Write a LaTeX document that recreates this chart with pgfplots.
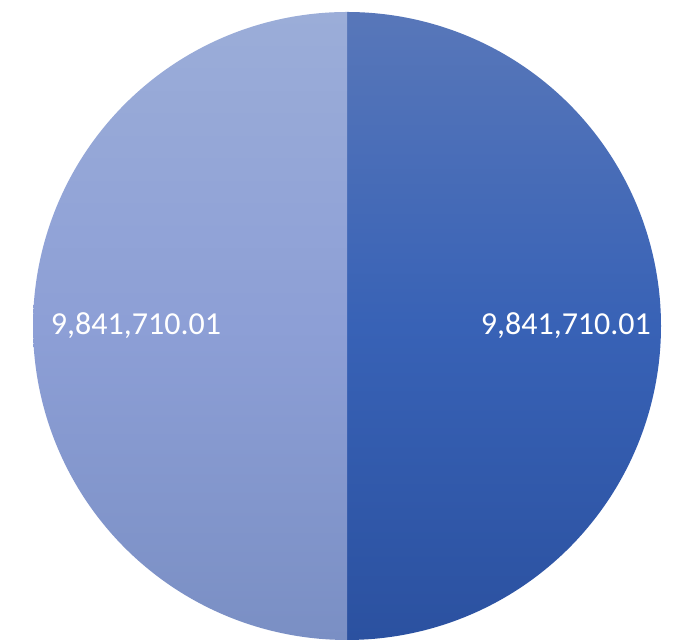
\documentclass[border=0pt]{standalone}
\usepackage{pgfplots}
\usepackage{pgfplotstable}
\usepackage{fontspec}
\setmainfont{Carlito}
\pgfplotsset{compat=1.18}
\definecolor{rtop}{HTML}{5877B9}
\definecolor{rmid}{HTML}{3862B6}
\definecolor{rbot}{HTML}{2B51A0}
\definecolor{ltop}{HTML}{9BADD8}
\definecolor{lmid}{HTML}{8D9FD6}
\definecolor{lbot}{HTML}{7A8FC4}
\pgfplotstableread{
label value
A 9841710.01
B 9841710.01
}\piedata
\begin{document}
\begin{tikzpicture}
\pgfplotstablegetelem{0}{value}\of\piedata \let\va\pgfplotsretval
\pgfplotstablegetelem{1}{value}\of\piedata \let\vb\pgfplotsretval
\pgfkeys{/pgf/fpu=true,/pgf/fpu/output format=fixed}
\pgfmathsetmacro\fa{360*\va/(\va+\vb)}
\pgfkeys{/pgf/fpu=false}
\pgfmathsetmacro\endA{90-\fa}
\pgfmathsetmacro\midA{90-\fa/2}
\pgfmathsetmacro\midB{(90-\fa-270)/2}
\begin{axis}[
  scale only axis, width=673pt, height=641pt,
  xmin=-1.1051, xmax=1.0382, ymin=-1.0032, ymax=1.0382,
  hide axis, clip=false,
]
\path (rel axis cs:0,0) rectangle (rel axis cs:1,1);
\addplot[draw=none, top color=rtop, bottom color=rbot, middle color=rmid,
  domain=90:\endA, samples=181, variable=\t]
  ({cos(\t)},{sin(\t)}) -- (axis cs:0,0) -- cycle;
\addplot[draw=none, top color=ltop, bottom color=lbot, middle color=lmid,
  domain=\endA:-270, samples=181, variable=\t]
  ({cos(\t)},{sin(\t)}) -- (axis cs:0,0) -- cycle;
\node[text=white, font=\fontsize{32}{38}\selectfont] at (axis cs:{0.697*cos(\midA)},{0.697*sin(\midA)}) {9,841,710.01};
\node[text=white, font=\fontsize{32}{38}\selectfont] at (axis cs:{0.672*cos(\midB)},{0.672*sin(\midB)}) {9,841,710.01};
\end{axis}
\end{tikzpicture}
\end{document}
